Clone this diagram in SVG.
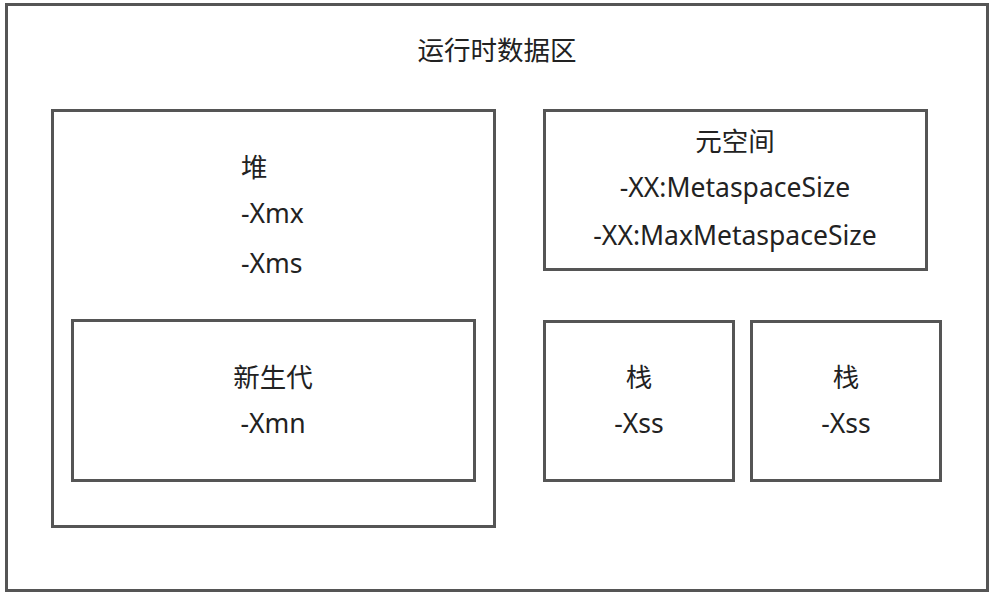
<svg xmlns="http://www.w3.org/2000/svg" width="994" height="596" viewBox="0 0 994 596">
<style>
.box{fill:#fff;stroke:#555;stroke-width:3}
text{font-family:"Noto Sans","Noto Sans CJK SC",sans-serif;font-size:26.5px;fill:#222;text-anchor:middle}
.l{text-anchor:start}
</style>
<rect width="994" height="596" fill="#fff"/>
<g id="runtime"><rect class="box" x="6.5" y="4.5" width="981" height="586"/><text x="497" y="60">运行时数据区</text></g>
<g id="heap"><rect class="box" x="52.5" y="110.5" width="442" height="416"/>
<text class="l" x="241" y="177">堆</text><text class="l" x="241" y="223">-Xmx</text><text class="l" x="241" y="273">-Xms</text></g>
<g id="young"><rect class="box" x="72.5" y="320.5" width="402" height="160"/><text x="273" y="387">新生代</text><text x="273" y="433">-Xmn</text></g>
<g id="meta"><rect class="box" x="544.5" y="110.5" width="382" height="159"/><text x="735" y="151">元空间</text><text x="735" y="197">-XX:MetaspaceSize</text><text x="735" y="245">-XX:MaxMetaspaceSize</text></g>
<g id="stack1"><rect class="box" x="544.5" y="321.5" width="189" height="159"/><text x="639" y="387">栈</text><text x="639" y="433">-Xss</text></g>
<g id="stack2"><rect class="box" x="751.5" y="321.5" width="189" height="159"/><text x="846" y="387">栈</text><text x="846" y="433">-Xss</text></g>
<g id="connectors"/>
</svg>
